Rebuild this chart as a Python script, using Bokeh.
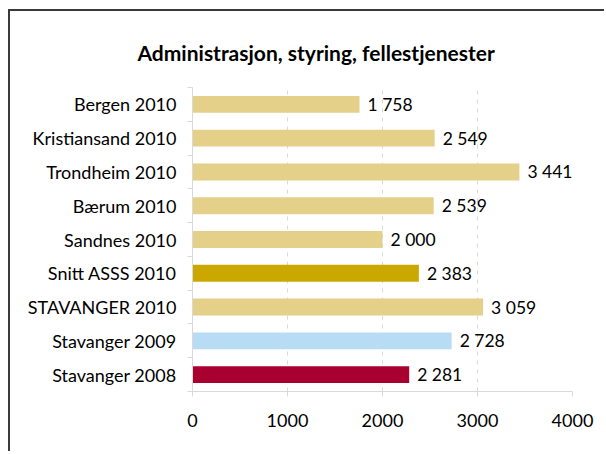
from bokeh.plotting import figure
from bokeh.models import Range1d, FixedTicker, ColumnDataSource, LinearAxis
from bokeh.core.properties import value
from bokeh.embed import file_html
from bokeh.resources import INLINE

title = "Administrasjon, styring, fellestjenester"
categories = ["Bergen 2010", "Kristiansand 2010", "Trondheim 2010", "Bærum 2010",
              "Sandnes 2010", "Snitt ASSS 2010", "STAVANGER 2010", "Stavanger 2009",
              "Stavanger 2008"]
values = [1758, 2549, 3441, 2539, 2000, 2383, 3059, 2728, 2281]
colors = ["#E5D08A", "#E5D08A", "#E5D08A", "#E5D08A", "#E5D08A", "#CAA800",
          "#E5D08A", "#B8DCF3", "#A8002F"]
x_ticks = [0, 1000, 2000, 3000, 4000]

FONT = "Lato"
n = len(categories)
ypos = [n - 0.5 - i for i in range(n)]
labels = [f"{v:,}".replace(",", " ") for v in values]

src = ColumnDataSource(dict(y=ypos, v=values, c=colors, lab=labels))

p = figure(width=596, height=442, output_backend="svg", toolbar_location=None,
           x_range=Range1d(0, 4000), y_range=Range1d(0, n),
           min_border_left=182, min_border_right=34, min_border_top=76,
           min_border_bottom=62, x_axis_location=None, y_axis_location=None)
p.outline_line_color = None
p.background_fill_color = "white"
p.border_fill_color = "white"
p.styles = {"margin-left": "8px", "margin-top": "9px",
            "border-left": "2px solid #3a3a3a", "border-top": "2px solid #3a3a3a"}

p.title.text = title
p.title.align = "left"
p.title.offset = -55
p.title.standoff = 46
p.title.text_font = FONT
p.title.text_font_size = "21px"
p.title.text_font_style = "bold"
p.title.text_color = "black"

# x axis
xa = LinearAxis(ticker=FixedTicker(ticks=x_ticks))
xa.axis_line_color = "#D9D9D9"
xa.major_tick_line_color = "#D9D9D9"
xa.major_tick_in = 0
xa.major_tick_out = 5
xa.minor_tick_line_color = None
xa.major_label_text_font = FONT
xa.major_label_text_font_size = "18px"
xa.major_label_text_color = "black"
xa.major_label_standoff = 17
p.add_layout(xa, "below")

# y axis
ya = LinearAxis(ticker=FixedTicker(ticks=ypos, minor_ticks=list(range(n + 1))))
ya.axis_line_color = "#D9D9D9"
ya.major_tick_line_color = None
ya.major_tick_in = 0
ya.major_tick_out = 0
ya.minor_tick_line_color = "#D9D9D9"
ya.minor_tick_in = 0
ya.minor_tick_out = 5
ya.major_label_overrides = {y: c for y, c in zip(ypos, categories)}
ya.major_label_text_font = FONT
ya.major_label_text_font_size = "18px"
ya.major_label_text_color = "black"
ya.major_label_standoff = 11
p.add_layout(ya, "left")

p.ygrid.grid_line_color = None
p.xgrid.ticker = FixedTicker(ticks=x_ticks[1:])
p.xgrid.grid_line_color = "#D9D9D9"
p.xgrid.grid_line_dash = "4 5"

p.hbar(y="y", right="v", left=0, height=0.5, fill_color="c", line_color=None, source=src)
p.text(x="v", y="y", text="lab", x_offset=8, text_baseline="middle", text_align="left",
       text_font=value(FONT), text_font_size="17.5px", text_color="black", source=src)

open("out.html", "w").write(file_html(p, INLINE))
